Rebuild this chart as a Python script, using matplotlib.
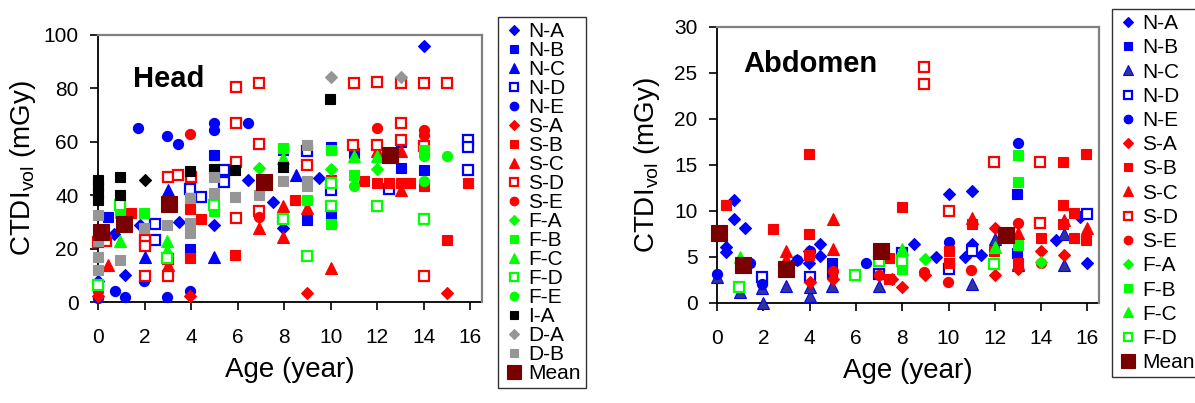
import matplotlib
matplotlib.use("Agg")
import matplotlib.pyplot as plt

plt.rcParams['font.family'] = ['Liberation Sans', 'DejaVu Sans']

# ---------------- Head data (age, CTDIvol) ----------------
h_NA_age = [0.0, 0.7, 1.15, 1.8, 3.47, 5.0, 6.45, 7.5, 7.95, 9.5, 14.0]
h_NA_val = [8.0, 25.5, 10.2, 28.9, 29.8, 28.8, 45.8, 37.5, 27.7, 46.6, 96.0]
h_NB_age = [0.43, 0.0, 2.97, 3.97, 4.97, 6.9, 7.93, 7.9, 9.0, 10.0, 10.0, 11.0, 13.0, 13.0, 14.0]
h_NB_val = [32.0, 6.0, 16.5, 19.8, 55.1, 59.3, 57.0, 31.4, 30.8, 32.7, 58.2, 55.7, 60.1, 50.1, 49.5]
h_NC_age = [2.0, 3.0, 5.0, 8.5]
h_NC_val = [17.0, 41.8, 17.0, 47.6]
h_ND_age = [2.43, 2.43, 3.97, 4.43, 5.43, 5.43, 9.0, 10.0, 12.5, 15.9, 15.9, 15.9]
h_ND_val = [29.3, 23.3, 42.3, 39.5, 49.5, 44.8, 56.4, 42.0, 42.3, 60.7, 58.2, 49.5]
h_NE_age = [0.0, 0.71, 1.14, 1.74, 1.96, 2.96, 2.96, 3.43, 3.97, 4.97, 4.97, 6.46]
h_NE_val = [1.5, 4.0, 1.7, 65.1, 7.7, 1.7, 62.3, 59.1, 4.0, 67.2, 64.5, 67.2]
h_SA_age = [0.0, 3.97, 8.97, 15.0]
h_SA_val = [2.1, 2.1, 3.4, 3.4]
h_SB_age = [1.43, 3.97, 3.97, 4.43, 5.9, 8.47, 10.0, 11.43, 12.0, 12.5, 13.0, 13.4, 14.0, 15.0, 15.9]
h_SB_val = [33.3, 16.5, 35.0, 31.0, 17.7, 38.3, 45.8, 45.4, 44.5, 44.5, 44.5, 44.5, 43.3, 23.3, 44.5]
h_SC_age = [0.43, 3.0, 6.93, 7.95, 7.95, 8.97, 10.0, 12.0, 13.0, 13.0]
h_SC_val = [14.0, 14.0, 27.7, 35.8, 24.3, 35.2, 12.7, 56.4, 56.4, 42.0]
h_SD_age = [0.0, 0.36, 2.0, 2.0, 2.0, 3.0, 3.0, 3.0, 3.43, 4.0, 5.93, 5.93, 5.93, 5.93,
            6.93, 6.93, 6.93, 8.97, 10.97, 11.0, 11.97, 12.0, 13.0, 13.0, 13.0, 14.0, 14.0, 14.0, 15.0]
h_SD_val = [22.5, 22.7, 23.3, 20.8, 9.9, 47.0, 16.0, 9.9, 47.6, 47.0, 80.7, 67.2, 52.6, 31.4,
            82.2, 59.2, 33.9, 51.4, 58.9, 82.0, 58.9, 82.5, 82.0, 67.0, 60.5, 82.0, 58.5, 9.6, 82.0]
h_SE_age = [0.0, 3.97, 6.93, 8.97, 12.0, 14.0, 14.0]
h_SE_val = [4.0, 63.0, 32.0, 37.7, 65.1, 64.5, 62.6]
h_FA_age = [6.93, 10.0, 12.0]
h_FA_val = [50.1, 49.9, 49.9]
h_FB_age = [0.96, 1.96, 4.97, 7.93, 9.0, 10.0, 10.0, 11.0, 14.0]
h_FB_val = [33.3, 33.3, 34.0, 57.6, 38.3, 57.0, 29.3, 47.6, 57.0]
h_FC_age = [0.96, 2.96, 2.96, 7.93, 11.0, 12.0]
h_FC_val = [22.7, 22.7, 19.6, 53.9, 54.5, 54.5]
h_FD_age = [0.0, 0.96, 2.96, 4.97, 7.93, 8.97, 10.0, 10.0, 12.0, 14.0]
h_FD_val = [6.5, 36.4, 16.5, 36.4, 31.2, 17.1, 36.0, 44.5, 36.0, 31.2]
h_FE_age = [11.0, 14.0, 14.0, 15.0]
h_FE_val = [43.6, 54.5, 45.4, 54.5]
h_IA_age = [0.0, 0.0, 0.0, 0.0, 0.96, 0.96, 3.97, 4.97, 5.9, 7.93, 9.97]
h_IA_val = [45.8, 43.3, 40.8, 38.3, 47.0, 40.1, 48.9, 49.8, 49.5, 50.7, 76.0]
h_IAd_age = [2.0]
h_IAd_val = [45.8]
h_DA_age = [10.0, 13.0]
h_DA_val = [84.4, 84.4]
h_DB_age = [0.0, 0.0, 0.0, 0.0, 0.96, 1.96, 2.96, 3.97, 3.97, 3.97, 4.97, 4.97, 5.9, 6.93, 7.93,
            8.97, 8.97, 8.97]
h_DB_val = [32.5, 23.0, 17.0, 12.0, 15.8, 27.7, 28.7, 38.9, 29.6, 25.8, 47.0, 40.8, 39.5, 40.1, 45.4,
            58.9, 45.4, 43.3]
h_Mean_age = [0.14, 1.11, 3.04, 7.14, 12.54]
h_Mean_val = [26.4, 29.3, 36.7, 44.8, 55.1]

# ---------------- Abdomen data (age, CTDIvol) ----------------
a_NA_age = [0.4, 0.4, 0.72, 0.72, 1.22, 3.46, 3.96, 3.96, 4.47, 4.47, 8.5, 9.47, 10.0, 10.7,
            11.0, 11.0, 11.4, 14.64, 15.7, 16.0]
a_NA_val = [6.1, 5.5, 11.2, 9.1, 8.2, 4.7, 5.7, 4.3, 6.4, 5.1, 6.4, 5.0, 11.9, 5.0,
            12.2, 6.4, 5.2, 6.8, 9.3, 4.3]
a_NB_age = [1.95, 4.97, 4.97, 10.0, 12.96, 12.96]
a_NB_val = [2.5, 4.3, 3.3, 4.3, 11.9, 5.4]
a_NC_age = [0.0, 0.98, 1.99, 1.95, 3.0, 4.0, 4.0, 4.97, 6.99, 11.0, 12.0, 13.0, 15.0, 15.0]
a_NC_val = [2.8, 1.2, 0.0, 1.6, 1.9, 0.8, 1.7, 1.9, 1.8, 2.1, 7.0, 4.1, 4.1, 7.5]
a_ND_age = [1.95, 4.0, 7.0, 8.0, 10.0, 11.0, 16.0]
a_ND_val = [2.8, 2.8, 3.2, 5.4, 3.7, 5.7, 9.7]
a_NE_age = [0.0, 1.44, 1.95, 3.46, 4.0, 6.44, 10.0, 13.0]
a_NE_val = [3.2, 4.3, 2.1, 4.7, 5.7, 4.3, 6.6, 17.4]
a_SA_age = [4.0, 5.0, 7.56, 8.0, 9.0, 12.0, 12.0, 13.0, 14.0, 15.0]
a_SA_val = [2.3, 2.6, 2.6, 1.7, 3.0, 8.1, 3.0, 3.7, 5.7, 5.2]
a_SB_age = [0.4, 2.4, 3.96, 3.96, 3.96, 7.45, 7.45, 7.97, 10.0, 10.0, 11.0, 11.97, 13.0, 14.0,
            14.93, 14.93, 14.93, 15.4, 15.4, 15.96, 15.96]
a_SB_val = [10.6, 8.0, 16.2, 7.5, 5.2, 2.6, 4.9, 10.4, 5.7, 4.3, 8.6, 5.7, 4.3, 7.1,
            15.3, 10.6, 8.6, 9.8, 7.1, 16.2, 6.8]
a_SC_age = [3.0, 3.0, 5.0, 5.0, 11.0, 13.0, 15.0, 16.0]
a_SC_val = [5.7, 4.8, 9.1, 5.9, 9.2, 7.6, 9.0, 8.1]
a_SD_age = [8.96, 8.96, 10.0, 11.97, 13.96, 13.96]
a_SD_val = [25.6, 23.8, 10.0, 15.3, 15.3, 8.7]
a_SE_age = [5.0, 7.0, 8.96, 9.96, 10.96, 13.0, 14.0]
a_SE_val = [3.5, 3.0, 3.4, 2.3, 3.6, 8.7, 4.4]
a_FA_age = [9.0, 14.0]
a_FA_val = [4.8, 4.5]
a_FB_age = [8.0, 13.0, 13.0, 13.0]
a_FB_val = [3.7, 16.1, 13.1, 6.3]
a_FC_age = [0.98, 8.0, 12.0]
a_FC_val = [5.0, 5.9, 6.1]
a_FD_age = [0.94, 5.95, 7.0, 8.0, 11.97]
a_FD_val = [1.7, 3.0, 4.6, 4.6, 4.2]
a_Mean_age = [0.07, 1.12, 3.0, 7.1, 12.5]
a_Mean_val = [7.6, 4.1, 3.7, 5.7, 7.4]

x_ticks = [0, 2, 4, 6, 8, 10, 12, 14, 16]
head_yticks = [0, 20, 40, 60, 80, 100]
abd_yticks = [0, 5, 10, 15, 20, 25, 30]

BLUE, RED, GREEN = '#0000FF', '#FF0000', '#00FF00'
BLACK, GRAY, MAROON = '#000000', '#969696', '#7A0000'


def style(marker, color, filled=True, ms=None, fill=None):
    base = {'D': 6.3, 's': 7.3, '^': 8.3, 'o': 7.3}
    d = dict(marker=marker, linestyle='none', markersize=ms or base[marker])
    if filled:
        d.update(markerfacecolor=fill or color, markeredgecolor=color, markeredgewidth=0.8)
    else:
        d.update(markerfacecolor='white', markeredgecolor=color, markeredgewidth=1.6,
                 markersize=6.6)
    return d


head_series = [
    ('N-A', h_NA_age, h_NA_val, style('D', BLUE)),
    ('N-B', h_NB_age, h_NB_val, style('s', BLUE)),
    ('N-C', h_NC_age, h_NC_val, style('^', BLUE)),
    ('N-D', h_ND_age, h_ND_val, style('s', BLUE, False)),
    ('N-E', h_NE_age, h_NE_val, style('o', BLUE)),
    ('S-A', h_SA_age, h_SA_val, style('D', RED)),
    ('S-B', h_SB_age, h_SB_val, style('s', RED)),
    ('S-C', h_SC_age, h_SC_val, style('^', RED)),
    ('S-D', h_SD_age, h_SD_val, style('s', RED, False)),
    ('S-E', h_SE_age, h_SE_val, style('o', RED)),
    ('F-A', h_FA_age, h_FA_val, style('D', GREEN)),
    ('F-B', h_FB_age, h_FB_val, style('s', GREEN)),
    ('F-C', h_FC_age, h_FC_val, style('^', GREEN)),
    ('F-D', h_FD_age, h_FD_val, style('s', GREEN, False)),
    ('F-E', h_FE_age, h_FE_val, style('o', GREEN)),
    ('I-A', h_IA_age, h_IA_val, style('s', BLACK)),
    ('_I-A diamond', h_IAd_age, h_IAd_val, style('D', BLACK)),
    ('D-A', h_DA_age, h_DA_val, style('D', GRAY)),
    ('D-B', h_DB_age, h_DB_val, style('s', GRAY)),
    ('Mean', h_Mean_age, h_Mean_val, style('s', MAROON, ms=12)),
]

abd_series = [
    ('N-A', a_NA_age, a_NA_val, style('D', BLUE)),
    ('N-B', a_NB_age, a_NB_val, style('s', BLUE)),
    ('N-C', a_NC_age, a_NC_val, style('^', BLUE, fill='#333399')),
    ('N-D', a_ND_age, a_ND_val, style('s', BLUE, False)),
    ('N-E', a_NE_age, a_NE_val, style('o', BLUE)),
    ('S-A', a_SA_age, a_SA_val, style('D', RED)),
    ('S-B', a_SB_age, a_SB_val, style('s', RED)),
    ('S-C', a_SC_age, a_SC_val, style('^', RED)),
    ('S-D', a_SD_age, a_SD_val, style('s', RED, False)),
    ('S-E', a_SE_age, a_SE_val, style('o', RED)),
    ('F-A', a_FA_age, a_FA_val, style('D', GREEN)),
    ('F-B', a_FB_age, a_FB_val, style('s', GREEN)),
    ('F-C', a_FC_age, a_FC_val, style('^', GREEN)),
    ('F-D', a_FD_age, a_FD_val, style('s', GREEN, False)),
    ('Mean', a_Mean_age, a_Mean_val, style('s', MAROON, ms=12)),
]

fig = plt.figure(figsize=(11.95, 4.03), dpi=100)
ax1 = fig.add_axes([98 / 1195, 1 - 302 / 403, 384 / 1195, 267 / 403])
ax2 = fig.add_axes([717 / 1195, 1 - 303 / 403, 382 / 1195, 276 / 403])


def setup(ax, ymax, yticks, title, tx, ty, ylpad):
    ax.set_xlim(0, 16.5)
    ax.set_ylim(0, ymax)
    ax.set_xticks(x_ticks)
    ax.set_yticks(yticks)
    ax.tick_params(axis='both', direction='out', length=6, width=1.2, labelsize=15, color='black')
    ax.tick_params(axis='x', pad=13)
    ax.tick_params(axis='y', pad=8)
    for s in ('left', 'bottom'):
        ax.spines[s].set_color('black')
        ax.spines[s].set_linewidth(1.3)
        ax.spines[s].set_zorder(0.5)
    for s in ('top', 'right'):
        ax.spines[s].set_color('#808080')
        ax.spines[s].set_linewidth(1.6)
    ax.set_xlabel('Age (year)', fontsize=20, labelpad=7)
    ax.set_ylabel(r'CTDI$_\mathregular{vol}$ (mGy)', fontsize=20, labelpad=ylpad)
    ax.text(tx, ty, title, transform=ax.transAxes, fontsize=21, fontweight='bold')


setup(ax1, 100, head_yticks, 'Head', 0.091, 0.805, 4)
setup(ax2, 30, abd_yticks, 'Abdomen', 0.068, 0.837, 9)

for ax, series in ((ax1, head_series), (ax2, abd_series)):
    for name, xs, ys, st in series:
        ax.plot(xs, ys, label=name, clip_on=False, zorder=3, **st)

legend_kw = dict(loc='upper left', fontsize=15, frameon=True, fancybox=False,
                 edgecolor='black', borderpad=0.25, handlelength=1.0, handletextpad=0.2,
                 borderaxespad=0, markerscale=0.85, numpoints=1)
h1, l1 = ax1.get_legend_handles_labels()
leg1 = fig.legend(h1, l1, bbox_to_anchor=(498 / 1195, 1 - 17 / 403), labelspacing=0.0, **legend_kw)
h2, l2 = ax2.get_legend_handles_labels()
leg2 = fig.legend(h2, l2, bbox_to_anchor=(1112 / 1195, 1 - 9 / 403), labelspacing=0.25, **legend_kw)
for leg in (leg1, leg2):
    leg.get_frame().set_linewidth(1.0)

fig.savefig('out.png', dpi=100)
